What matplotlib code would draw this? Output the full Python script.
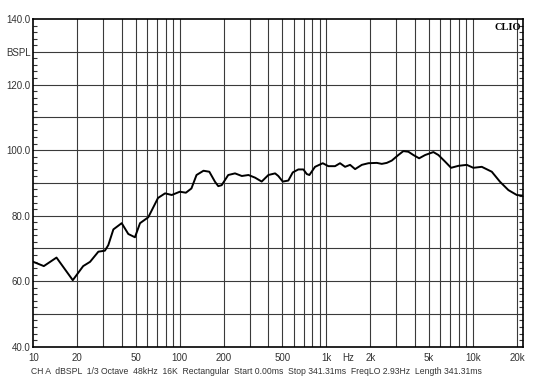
import matplotlib.pyplot as plt
from matplotlib.ticker import MultipleLocator, NullFormatter

plt.rcParams['font.family'] = ['Liberation Sans', 'DejaVu Sans']

# Frequency response (Hz, dBSPL)
freq = [10, 11.8, 14.4, 18.6, 21.9, 24.4, 27.8, 30.8, 32.5, 35.2, 40.1, 44.5,
        49.4, 53.5, 60.9, 71, 79.3, 88.1, 100, 110, 120, 130, 145, 159, 174,
        183, 193, 214, 238, 265, 294, 326, 362, 402, 447, 470, 504, 550, 590,
        644, 697, 735, 766, 837, 945, 1032, 1146, 1240, 1342, 1452, 1571,
        1746, 1936, 2209, 2389, 2584, 2795, 3099, 3355, 3630, 3927, 4297,
        4723, 5376, 5817, 6457, 7099, 7962, 9085, 10070, 11500, 13460, 15340,
        17470, 19940, 21900]
spl = [65.9, 64.6, 67.2, 60.3, 64.6, 65.9, 69.0, 69.3, 71.0, 75.8, 77.7, 74.4,
       73.4, 77.7, 79.5, 85.4, 86.8, 86.3, 87.3, 87.0, 88.3, 92.4, 93.7, 93.4,
       90.3, 89.0, 89.3, 92.4, 92.9, 92.1, 92.4, 91.6, 90.4, 92.4, 92.9,
       92.1, 90.4, 90.7, 93.2, 94.1, 94.1, 92.7, 92.4, 94.9, 96.0, 95.1, 95.1,
       96.0, 94.9, 95.5, 94.2, 95.5, 96.0, 96.1, 95.8, 96.1, 96.8, 98.5, 99.7,
       99.5, 98.5, 97.5, 98.5, 99.4, 98.5, 96.5, 94.6, 95.2, 95.5, 94.6, 94.9,
       93.4, 90.3, 87.8, 86.3, 86.1]

grid_freqs = [20, 30, 40, 50, 60, 70, 80, 90, 100, 200, 300, 400, 500, 600,
              700, 800, 900, 1000, 2000, 3000, 4000, 5000, 6000, 7000, 8000,
              9000, 10000, 20000]
x_ticks = [10, 20, 50, 100, 200, 500, 1000, 1410, 2000, 5000, 10000, 20000]
x_labels = ['10', '20', '50', '100', '200', '500', '1k', 'Hz', '2k', '5k', '10k', '20k']
y_ticks = [40, 60, 80, 100, 120, 130, 140]
y_labels = ['40.0', '60.0', '80.0', '100.0', '120.0', 'BSPL', '140.0']

fig = plt.figure(figsize=(5.37, 3.85), dpi=100)
ax = fig.add_axes([0.062, 0.0995, 0.9115, 0.851])

for f in grid_freqs:
    ax.axvline(f, color='#3a3a3a', lw=0.8, zorder=1)
for db in range(50, 140, 10):
    ax.axhline(db, color='#3a3a3a', lw=0.8, zorder=1)

ax.semilogx(freq, spl, color='black', lw=1.4, zorder=3, solid_joinstyle='round')

ax.set_xlim(10, 21900)
ax.set_ylim(40, 140)

ax.set_xticks(x_ticks)
ax.set_xticklabels(x_labels)
ax.xaxis.set_minor_formatter(NullFormatter())
ax.tick_params(axis='x', which='both', length=0, pad=4.5, labelsize=7, colors='#333333')

ax.set_yticks(y_ticks)
ax.set_yticklabels(y_labels)
ax.yaxis.set_minor_locator(MultipleLocator(2))
ax.tick_params(axis='y', which='major', length=0, pad=2, labelsize=7, colors='#333333')
ax.tick_params(axis='y', which='minor', direction='in', length=3, width=0.8,
               left=True, right=True, color='#333333')

for s in ax.spines.values():
    s.set_linewidth(1.2)
    s.set_color('black')

ax.text(0.997, 0.988, 'CLIO', transform=ax.transAxes, ha='right', va='top',
        fontfamily='Liberation Serif', fontweight='bold', fontsize=7.5)

fig.text(0.478, 0.034,
         'CH A  dBSPL  1/3 Octave  48kHz  16K  Rectangular  Start 0.00ms  '
         'Stop 341.31ms  FreqLO 2.93Hz  Length 341.31ms',
         ha='center', va='center', fontsize=6.2, color='#333333')

fig.savefig('out.png', dpi=100)
